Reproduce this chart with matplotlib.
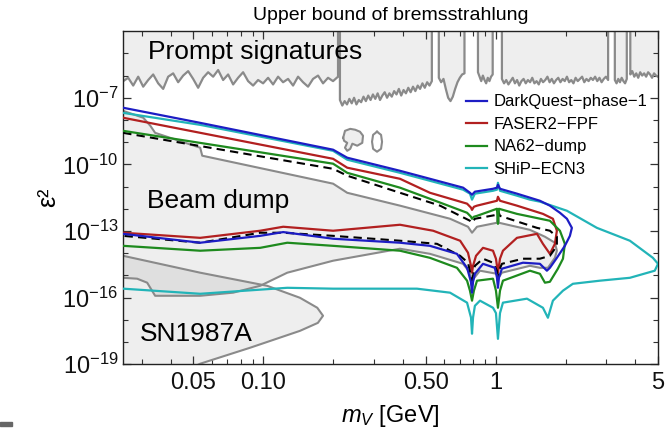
# libraries
import numpy as np
import matplotlib
matplotlib.use('Agg')
import matplotlib.pyplot as plt
from matplotlib.patches import Rectangle
from matplotlib.ticker import FixedLocator, FixedFormatter, NullFormatter

plt.rcParams['font.family'] = ['Liberation Sans', 'DejaVu Sans']
plt.rcParams['mathtext.fontset'] = 'custom'
plt.rcParams['mathtext.rm'] = 'Liberation Sans'
plt.rcParams['mathtext.it'] = 'Liberation Sans:italic'

# data: dark photon mass m_V [GeV] and log10(eps^2)
# each detector is one closed contour (upper branch, then lower branch back)
dq_m = [0.025, 0.0536, 0.200, 0.230, 0.388, 0.522, 0.725, 0.776, 0.792, 0.815, 0.975, 1.014, 1.024, 1.045,
        1.236, 1.552, 1.713, 1.892, 2.028, 2.130,
        2.089, 1.987, 1.836, 1.713, 1.663, 1.552, 1.312, 1.065, 1.034, 1.024, 1.014, 0.993, 0.883, 0.815,
        0.800, 0.792, 0.784, 0.754, 0.682, 0.522, 0.388, 0.200, 0.122, 0.0971, 0.0536, 0.025]
dq_e = [-7.45, -8.13, -9.34, -9.70, -10.29, -10.65, -11.05, -11.28, -11.37, -11.23, -11.10, -11.05, -10.92, -11.10,
        -11.32, -11.64, -11.86, -12.18, -12.45, -12.86,
        -13.22, -13.67, -14.21, -14.66, -14.79, -14.48, -14.43, -14.70, -15.10, -15.56, -15.10, -14.66, -14.48, -14.93,
        -15.30, -15.78, -15.30, -14.66, -14.03, -13.67, -13.53, -13.35, -13.05, -13.22, -13.53, -13.13]

faser_m = [0.025, 0.200, 0.230, 0.388, 0.522, 0.754, 0.784, 0.792, 0.807, 0.832, 1.014, 1.024, 1.045, 1.236,
           1.599, 1.765, 1.836,
           1.800, 1.713, 1.599, 1.507, 1.236, 1.076, 1.045, 1.024, 1.004, 0.975, 0.883, 0.824, 0.800, 0.792,
           0.784, 0.761, 0.704, 0.539, 0.388, 0.200, 0.122, 0.0971, 0.0536, 0.025]
faser_e = [-7.90, -9.75, -10.15, -10.65, -11.28, -11.77, -11.95, -12.05, -11.91, -11.86, -11.64, -11.46, -11.64, -11.86,
           -12.23, -12.45, -12.99,
           -13.58, -14.03, -13.58, -13.13, -13.31, -13.89, -14.25, -14.88, -14.25, -13.89, -13.76, -14.12, -14.57, -14.88,
           -14.57, -13.98, -13.44, -12.99, -12.72, -12.99, -12.81, -12.99, -13.31, -13.08]

na62_m = [0.025, 0.200, 0.230, 0.388, 0.522, 0.754, 0.784, 0.792, 0.807, 0.832, 1.014, 1.024, 1.034, 1.236,
          1.713, 1.892, 1.987,
          1.950, 1.854, 1.713, 1.631, 1.552, 1.406, 1.076, 1.045, 1.024, 1.004, 0.975, 0.832, 0.807, 0.792,
          0.776, 0.754, 0.682, 0.522, 0.388, 0.200, 0.127, 0.0971, 0.0536, 0.025]
na62_e = [-8.49, -9.97, -10.38, -11.05, -11.55, -12.18, -12.36, -12.45, -12.36, -12.32, -12.00, -12.68, -12.00, -12.23,
          -12.54, -12.99, -13.58,
          -14.25, -14.70, -15.29, -15.33, -14.93, -14.79, -15.24, -15.69, -16.46, -15.69, -15.15, -15.24, -15.69, -16.14,
          -15.69, -15.24, -14.66, -14.21, -13.89, -13.67, -13.53, -13.76, -13.89, -13.67]

ship_m = [0.025, 0.0536, 0.200, 0.230, 0.388, 0.522, 0.725, 0.776, 0.792, 0.815, 0.975, 1.014, 1.024, 1.045,
          1.236, 1.406, 1.552, 2.028, 2.729, 3.784, 4.753, 5.0,
          4.842, 3.784, 2.811, 2.151, 1.950, 1.765, 1.680, 1.599, 1.365, 1.076, 1.045, 1.024, 1.004, 0.975,
          0.857, 0.815, 0.800, 0.792, 0.784, 0.754, 0.637, 0.459, 0.200, 0.127, 0.0536, 0.025]
ship_e = [-7.68, -8.22, -9.39, -9.79, -10.38, -10.74, -11.14, -11.32, -11.59, -11.32, -11.19, -11.14, -10.83, -11.19,
          -11.41, -11.59, -11.68, -12.09, -12.86, -13.44, -14.21, -14.48,
          -14.79, -15.11, -15.24, -15.38, -15.69, -16.14, -16.91, -16.46, -16.05, -16.23, -16.70, -17.86, -16.70, -16.46,
          -16.14, -16.37, -16.90, -17.63, -16.90, -16.23, -15.78, -15.60, -15.60, -15.56, -15.83, -15.60]

# black dashed contour
dash_m = [0.025, 0.200, 0.230, 0.388, 0.577, 0.717, 0.776, 0.792, 0.815, 1.014, 1.024, 1.045, 1.212, 1.507,
          1.713, 1.836,
          1.836, 1.713, 1.552, 1.312, 1.065, 1.034, 1.024, 1.014, 0.975, 0.883, 0.815, 0.800, 0.792, 0.784,
          0.761, 0.704, 0.560, 0.388, 0.200, 0.122, 0.0971, 0.0536, 0.025]
dash_e = [-8.58, -10.20, -10.51, -11.28, -11.86, -12.36, -12.54, -12.63, -12.45, -12.27, -12.09, -12.32, -12.54, -12.86,
          -12.99, -13.26,
          -13.67, -14.12, -14.25, -14.25, -14.48, -14.79, -15.24, -14.79, -14.43, -14.25, -14.57, -15.02, -15.47, -15.02,
          -14.43, -14.12, -13.58, -13.44, -13.22, -13.08, -13.08, -13.53, -13.22]

# beam dump excluded region
dump_m = [0.025, 0.0305, 0.0327, 0.0343, 0.0536, 0.0547, 0.200, 0.230, 0.388, 0.637, 0.761, 0.792, 0.832, 1.014,
          1.024, 1.034, 1.406, 1.631, 1.800, 1.836,
          1.800, 1.680, 1.552, 1.406, 1.065, 1.024, 1.014, 0.857, 0.792, 0.776, 0.725, 0.522, 0.388, 0.200,
          0.127, 0.0971, 0.0743, 0.0536, 0.0343, 0.0317, 0.0287, 0.025]
dump_e = [-7.59, -7.90, -8.26, -8.58, -9.25, -9.61, -10.87, -11.28, -11.86, -12.45, -12.81, -13.08, -12.81, -12.63,
          -12.23, -12.63, -12.95, -13.26, -13.53, -13.89,
          -14.21, -14.66, -14.66, -14.57, -14.88, -15.15, -14.93, -14.79, -15.24, -14.88, -14.48, -14.03, -13.80, -14.34,
          -14.88, -15.47, -15.78, -15.92, -15.92, -15.33, -15.15, -15.11]

# supernova region
sn_m = [0.025, 0.0536, 0.104, 0.144, 0.171, 0.181, 0.172, 0.144, 0.0879, 0.0536, 0.0462]
sn_e = [-14.12, -14.88, -15.47, -16.01, -16.46, -16.82, -17.14, -17.50, -18.26, -18.98, -19.30]

# small islands near 0.25 GeV
blob_m = [0.221, 0.225, 0.237, 0.249, 0.261, 0.269, 0.267, 0.254, 0.242, 0.237, 0.230, 0.225, 0.230, 0.223, 0.221]
blob_e = [-8.80, -8.49, -8.40, -8.44, -8.53, -8.71, -9.03, -9.16, -9.07, -9.30, -9.39, -9.25, -9.03, -8.94, -8.80]
ring_m = [0.309, 0.3216, 0.3248, 0.3216, 0.309, 0.2972, 0.2941, 0.2972, 0.309]
ring_e = [-8.53, -8.67, -8.98, -9.30, -9.43, -9.30, -8.98, -8.67, -8.53]

# prompt signatures boundary: (first mass, last mass, log10 eps^2 values), spikes to the top in between
prompt_segments = [
    (0.025, 0.210, [-6.25, -6.10, -6.45, -6.05, -6.50, -6.20, -5.95, -6.35, -6.60, -6.05, -5.90, -6.30, -6.00,
                    -5.80, -6.15, -6.55, -6.10, -5.85, -6.05, -5.75, -6.20, -5.95, -6.40, -6.10, -5.85, -6.25,
                    -6.45, -6.20, -6.35, -6.10, -6.40, -6.05, -6.30, -6.15, -6.45, -6.05, -6.30, -6.50, -6.15,
                    -6.00, -6.35, -6.10, -6.25, -6.05]),
    (0.214, 0.532, [-7.10, -7.35, -7.15, -7.30, -7.05, -7.25, -7.00, -7.30, -7.10, -7.20, -6.95, -7.15, -6.90,
                    -7.10, -6.85, -7.05, -6.80, -7.10, -6.90, -6.75, -7.00, -6.80, -6.95, -6.70, -6.85, -6.60,
                    -6.90, -6.65, -6.80, -6.55, -6.75, -6.50, -6.70, -6.45, -6.60, -6.35, -6.55, -6.30, -6.45,
                    -6.25]),
    (0.570, 0.735, [-6.10, -6.30, -6.15, -6.60, -7.00, -7.15, -6.95, -6.60, -6.30, -6.10, -5.95, -5.90]),
    (0.840, 0.972, [-5.85, -6.05, -6.25, -6.00, -6.20, -6.35, -6.10, -6.25, -6.05, -5.95]),
    (1.065, 3.050, [-6.15, -6.35, -6.20, -6.40, -6.25, -6.10, -6.35, -6.20, -6.45, -6.25, -6.15, -6.35, -6.20,
                    -6.30, -6.10, -6.35, -6.25, -6.40, -6.15, -6.30, -6.20, -6.05, -6.30, -6.15, -6.35, -6.20,
                    -6.10, -6.30, -6.15, -6.25, -6.05, -6.30, -6.20, -6.35, -6.10, -6.25, -6.15, -6.05, -6.30,
                    -6.15, -6.25, -6.10, -6.20, -6.05, -6.25, -6.10, -6.30, -6.15, -6.05, -6.20]),
    (3.260, 3.670, [-6.20, -6.35, -6.15, -6.30, -6.10, -6.25, -6.35, -6.15]),
    (3.800, 5.000, [-5.95, -5.80, -6.05, -5.90, -6.10, -5.85, -6.00, -5.90, -6.05, -5.85, -5.95, -6.10, -5.90,
                    -6.00, -6.05]),
]

labels = ['DarkQuest\u2212phase\u22121', 'FASER2\u2212FPF', 'NA62\u2212dump', 'SHiP\u2212ECN3']
colors = ['#1d1dc4', '#b22020', '#1e8a1e', '#22b4b8']

# build prompt line
top = -3.0
pm, pe = [], []
for k, (m0, m1, vals) in enumerate(prompt_segments):
    if k > 0:
        pm.append(m0)
        pe.append(top)
    pm += list(np.geomspace(m0, m1, len(vals)))
    pe += vals
    if k < len(prompt_segments) - 1:
        pm.append(m1)
        pe.append(top)
pm = np.array(pm)
pe = 10.0 ** np.array(pe)

fig = plt.figure(figsize=(6.66, 4.33), dpi=100)
ax = fig.add_axes([0.185, 0.159, 0.803, 0.769])
ax.set_xscale('log')
ax.set_yscale('log')

fill_kw = dict(color='#808080', alpha=0.13, lw=0, zorder=0)
gray = '#8a8a8a'

# shaded regions
ax.fill_between(pm, pe, 1e-2, **fill_kw)
ax.plot(pm, pe, color=gray, lw=1.6, zorder=2)
ax.fill(dump_m, 10.0 ** np.array(dump_e), **fill_kw)
ax.plot(dump_m, 10.0 ** np.array(dump_e), color=gray, lw=1.5, zorder=2)
ax.fill(sn_m + [0.02, 0.02], 10.0 ** np.array(sn_e + [-19.3, -14.12]), **fill_kw)
ax.plot(sn_m, 10.0 ** np.array(sn_e), color=gray, lw=1.5, zorder=2)
ax.fill(blob_m, 10.0 ** np.array(blob_e), **fill_kw)
ax.plot(blob_m, 10.0 ** np.array(blob_e), color=gray, lw=1.5, zorder=2)
ax.plot(ring_m, 10.0 ** np.array(ring_e), color=gray, lw=1.5, zorder=2)

# detector sensitivities
curves = [(dq_m, dq_e), (faser_m, faser_e), (na62_m, na62_e), (ship_m, ship_e)]
order = [4, 3, 3.5, 3.8]
for (m, e), lab, c, z in zip(curves, labels, colors, order):
    ax.plot(m, 10.0 ** np.array(e), color=c, lw=1.6, label=lab, zorder=z)
ax.plot(dash_m, 10.0 ** np.array(dash_e), color='black', lw=1.5, dashes=(4, 2.5), zorder=3.2)

ax.set_xlim(0.025, 5)
ax.set_ylim(1e-19, 1e-4)

# ticks
xmaj = [0.05, 0.1, 0.5, 1, 5]
ax.xaxis.set_major_locator(FixedLocator(xmaj))
ax.xaxis.set_major_formatter(FixedFormatter(['0.05', '0.10', '0.50', '1', '5']))
xmin = [0.03, 0.04, 0.06, 0.07, 0.08, 0.09, 0.2, 0.3, 0.4, 0.6, 0.7, 0.8, 0.9, 2, 3, 4]
ax.xaxis.set_minor_locator(FixedLocator(xmin))
ax.xaxis.set_minor_formatter(NullFormatter())
ymaj = [1e-19, 1e-16, 1e-13, 1e-10, 1e-7]
ax.yaxis.set_major_locator(FixedLocator(ymaj))
ax.yaxis.set_major_formatter(FixedFormatter([r'$10^{-19}$', r'$10^{-16}$', r'$10^{-13}$', r'$10^{-10}$', r'$10^{-7}$']))
ax.yaxis.set_minor_locator(FixedLocator([10.0 ** k for k in range(-18, -4) if k not in (-16, -13, -10, -7)]))
ax.yaxis.set_minor_formatter(NullFormatter())
ax.tick_params(which='both', direction='in', top=True, right=True, color='#333333', labelcolor='#111111')
ax.tick_params(which='major', length=6, width=0.9, labelsize=17)
ax.tick_params(axis='x', which='major', pad=6)
ax.tick_params(which='minor', length=3.5, width=0.8)
for s in ax.spines.values():
    s.set_color('#222222')
    s.set_linewidth(1.0)

ax.set_xlabel(r'$m_V$ [GeV]', fontsize=17, labelpad=6)
ax.set_ylabel('\u03b5\u00b2', fontsize=18, labelpad=2)
ax.set_title('Upper bound of bremsstrahlung', fontsize=14, pad=8)

# region names
ax.text(0.032, 10.0 ** -5.24, 'Prompt signatures', fontsize=19, va='baseline', zorder=5)
ax.text(0.0317, 10.0 ** -11.95, 'Beam dump', fontsize=19, va='baseline', zorder=5)
ax.text(0.0296, 10.0 ** -17.95, 'SN1987A', fontsize=19, va='baseline', zorder=5)

ax.legend(loc='upper left', bbox_to_anchor=(0.641, 0.81), frameon=False, fontsize=12,
          handlelength=1.25, handletextpad=0.4, labelspacing=0.45, borderpad=0, borderaxespad=0)

# small mark at the bottom left corner
fig.patches.append(Rectangle((0, 1 - 426 / 433), 12 / 666, 4 / 433, transform=fig.transFigure,
                             color='#666666'))

fig.savefig('out.png', dpi=100)
